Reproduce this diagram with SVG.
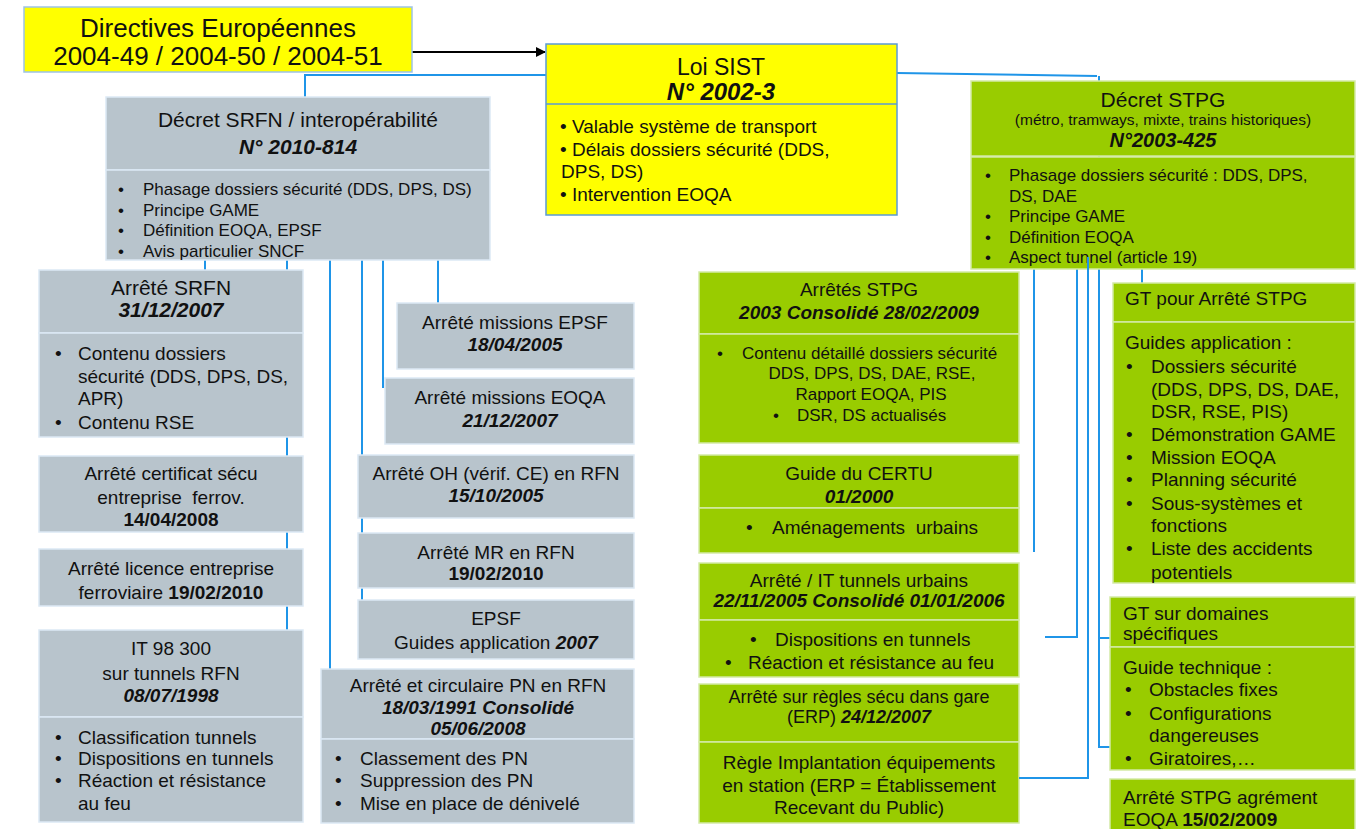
<svg xmlns="http://www.w3.org/2000/svg" width="1360" height="829" viewBox="0 0 1360 829">
<defs>
<style>
text{font-family:"Liberation Sans",Arial,sans-serif;fill:#111}
.c{text-anchor:middle}
.b{font-weight:bold}
.bi{font-weight:bold;font-style:italic}
.gray{fill:#B8C4CC;stroke:#DCE9F5;stroke-width:1.5}
.green{fill:#99CC00;stroke:#D4EAA6;stroke-width:1.5}
.yel{fill:#FFFF00;stroke:#9DC3E6;stroke-width:1.5}
.loi{fill:#FFFF00;stroke:#5B9BD5;stroke-width:1.5}
.conn{fill:none;stroke:#1F95E8;stroke-width:2}
.f26{font-size:26px}
.f24{font-size:24px}
.f21{font-size:21px}
.f19{font-size:19px}
.f17{font-size:17px}
.f155{font-size:15.5px}
</style>
<marker id="arr" viewBox="0 0 10 10" refX="9" refY="5" markerWidth="10" markerHeight="10" markerUnits="userSpaceOnUse" orient="auto">
<path d="M0,0 L10,5 L0,10 z" fill="#000"/>
</marker>
</defs>
<rect width="1360" height="829" fill="#fff"/>

<g id="connectors">
<path class="conn" d="M546,75 H305 V97"/>
<path class="conn" d="M897,73 L1097,76"/>
<path class="conn" d="M1099,76 V747 H1110"/>
<path class="conn" d="M1099,638 H1110"/>
<path class="conn" d="M205,260 V270"/>
<path class="conn" d="M287,260 V630"/>
<path class="conn" d="M330,260 V669"/>
<path class="conn" d="M362,260 V600"/>
<path class="conn" d="M383,260 V388"/>
<path class="conn" d="M438,260 V303"/>
<path class="conn" d="M1034,269 V552"/>
<path class="conn" d="M1077,269 V637 H1045"/>
<path class="conn" d="M1142,269 V283"/>
<path d="M412,52 H545" stroke="#000" stroke-width="2" fill="none" marker-end="url(#arr)"/>
</g>

<g id="directives">
<rect class="yel" x="24" y="7" width="388" height="65"/>
<text class="c f26" x="218" y="37">Directives Européennes</text>
<text class="c f26" x="218" y="65">2004-49 / 2004-50 / 2004-51</text>
</g>

<g id="loi-sist">
<rect class="loi" x="546" y="44" width="351" height="171"/>
<line x1="546" y1="104" x2="897" y2="104" stroke="#5B9BD5" stroke-width="1.5"/>
<text class="c" font-size="23" x="721" y="75">Loi SIST</text>
<text class="c bi" font-size="24" x="721" y="100">N° 2002-3</text>
<text class="f19" x="560" y="133">• Valable système de transport</text>
<text class="f19" x="560" y="156">• Délais dossiers sécurité (DDS,</text>
<text class="f19" x="561" y="178">DPS, DS)</text>
<text class="f19" x="560" y="201">• Intervention EOQA</text>
</g>

<g id="decret-srfn">
<rect class="gray" x="106" y="97" width="384" height="73"/>
<rect class="gray" x="106" y="170" width="384" height="90"/>
<text class="c f21" x="298" y="127">Décret SRFN / interopérabilité</text>
<text class="c bi f21" x="298" y="154">N° 2010-814</text>
<text class="f17" x="118" y="195">•</text><text class="f17" x="143" y="195">Phasage dossiers sécurité (DDS, DPS, DS)</text>
<text class="f17" x="118" y="216">•</text><text class="f17" x="143" y="216">Principe GAME</text>
<text class="f17" x="118" y="236">•</text><text class="f17" x="143" y="236">Définition EOQA, EPSF</text>
<text class="f17" x="118" y="257">•</text><text class="f17" x="143" y="257">Avis particulier SNCF</text>
</g>

<g id="arrete-srfn">
<rect class="gray" x="39" y="270" width="264" height="63"/>
<rect class="gray" x="39" y="333" width="264" height="104"/>
<text class="c f21" x="171" y="295">Arrêté SRFN</text>
<text class="c bi f21" x="171" y="317">31/12/2007</text>
<text class="f19" x="55" y="360">•</text><text class="f19" x="78" y="360">Contenu dossiers</text>
<text class="f19" x="78" y="383">sécurité (DDS, DPS, DS,</text>
<text class="f19" x="78" y="405">APR)</text>
<text class="f19" x="55" y="429">•</text><text class="f19" x="78" y="429">Contenu RSE</text>
</g>

<g id="arrete-certificat">
<rect class="gray" x="39" y="456" width="264" height="76"/>
<text class="c f19" x="171" y="480">Arrêté certificat sécu</text>
<text class="c f19" x="171" y="504" xml:space="preserve">entreprise  ferrov.</text>
<text class="c b f19" x="171" y="526">14/04/2008</text>
</g>

<g id="arrete-licence">
<rect class="gray" x="39" y="549" width="264" height="57"/>
<text class="c f19" x="171" y="575">Arrêté licence entreprise</text>
<text class="c f19" x="171" y="599">ferroviaire <tspan class="b">19/02/2010</tspan></text>
</g>

<g id="it-98-300">
<rect class="gray" x="39" y="630" width="264" height="87"/>
<rect class="gray" x="39" y="717" width="264" height="105"/>
<text class="c f19" x="171" y="655">IT 98 300</text>
<text class="c f19" x="171" y="680">sur tunnels RFN</text>
<text class="c bi f19" x="171" y="702">08/07/1998</text>
<text class="f19" x="55" y="744">•</text><text class="f19" x="78" y="744">Classification tunnels</text>
<text class="f19" x="55" y="765">•</text><text class="f19" x="78" y="765">Dispositions en tunnels</text>
<text class="f19" x="55" y="787">•</text><text class="f19" x="78" y="787">Réaction et résistance</text>
<text class="f19" x="78" y="810">au feu</text>
</g>

<g id="arrete-missions-epsf">
<rect class="gray" x="397" y="303" width="237" height="66"/>
<text class="c f19" x="515" y="329">Arrêté missions EPSF</text>
<text class="c bi f19" x="515" y="351">18/04/2005</text>
</g>

<g id="arrete-missions-eoqa">
<rect class="gray" x="385" y="378" width="249" height="66"/>
<text class="c f19" x="510" y="404">Arrêté missions EOQA</text>
<text class="c bi f19" x="510" y="427">21/12/2007</text>
</g>

<g id="arrete-oh">
<rect class="gray" x="358" y="455" width="276" height="63"/>
<text class="c f19" x="496" y="480">Arrêté OH (vérif. CE) en RFN</text>
<text class="c bi f19" x="496" y="502">15/10/2005</text>
</g>

<g id="arrete-mr">
<rect class="gray" x="358" y="533" width="276" height="55"/>
<text class="c f19" x="496" y="559">Arrêté MR en RFN</text>
<text class="c b f19" x="496" y="580">19/02/2010</text>
</g>

<g id="epsf-guides">
<rect class="gray" x="358" y="600" width="276" height="59"/>
<text class="c f19" x="496" y="625">EPSF</text>
<text class="c f19" x="496" y="649">Guides application <tspan class="bi">2007</tspan></text>
</g>

<g id="arrete-pn">
<rect class="gray" x="321" y="669" width="313" height="70"/>
<rect class="gray" x="321" y="739" width="313" height="84"/>
<text class="c f19" x="478" y="692">Arrêté et circulaire PN en RFN</text>
<text class="c bi f19" x="478" y="714">18/03/1991 Consolidé</text>
<text class="c bi f19" x="478" y="735">05/06/2008</text>
<text class="f19" x="335" y="765">•</text><text class="f19" x="360" y="765">Classement des PN</text>
<text class="f19" x="335" y="787">•</text><text class="f19" x="360" y="787">Suppression des PN</text>
<text class="f19" x="335" y="810">•</text><text class="f19" x="360" y="810">Mise en place de dénivelé</text>
</g>

<g id="decret-stpg">
<rect class="green" x="971" y="81" width="384" height="75"/>
<rect class="green" x="971" y="157" width="384" height="112"/>
<text class="c f21" x="1163" y="107">Décret STPG</text>
<text class="c f155" x="1163" y="125">(métro, tramways, mixte, trains historiques)</text>
<text class="c bi" font-size="20" x="1163" y="147">N°2003-425</text>
<text class="f17" x="985" y="181">•</text><text class="f17" x="1009" y="181">Phasage dossiers sécurité : DDS, DPS,</text>
<text class="f17" x="1009" y="202">DS, DAE</text>
<text class="f17" x="985" y="222">•</text><text class="f17" x="1009" y="222">Principe GAME</text>
<text class="f17" x="985" y="243">•</text><text class="f17" x="1009" y="243">Définition EOQA</text>
<text class="f17" x="985" y="263">•</text><text class="f17" x="1009" y="263">Aspect tunnel (article 19)</text>
</g>

<g id="arretes-stpg">
<rect class="green" x="699" y="272" width="320" height="62"/>
<rect class="green" x="699" y="334" width="320" height="109"/>
<text class="c f19" x="859" y="296">Arrêtés STPG</text>
<text class="c bi f19" x="859" y="319">2003 Consolidé 28/02/2009</text>
<text class="f17" x="717" y="359">•</text><text class="f17" x="742" y="359">Contenu détaillé dossiers sécurité</text>
<text class="c f17" x="872" y="379">DDS, DPS, DS, DAE, RSE,</text>
<text class="c f17" x="871" y="400">Rapport EOQA, PIS</text>
<text class="f17" x="773" y="421">•</text><text class="f17" x="797" y="421">DSR, DS actualisés</text>
</g>

<g id="guide-certu">
<rect class="green" x="699" y="455" width="320" height="53"/>
<rect class="green" x="699" y="508" width="320" height="45"/>
<text class="c f19" x="859" y="480">Guide du CERTU</text>
<text class="c bi f19" x="859" y="503">01/2000</text>
<text class="f19" x="746" y="534">•</text><text class="f19" x="772" y="534" xml:space="preserve">Aménagements  urbains</text>
</g>

<g id="arrete-tunnels-urbains">
<rect class="green" x="699" y="563" width="320" height="57"/>
<rect class="green" x="699" y="620" width="320" height="57"/>
<text class="c f19" x="859" y="587">Arrêté / IT tunnels urbains</text>
<text class="c bi f19" x="859" y="607">22/11/2005 Consolidé 01/01/2006</text>
<text class="f19" x="750" y="646">•</text><text class="f19" x="775" y="646">Dispositions en tunnels</text>
<text class="f19" x="725" y="669">•</text><text class="f19" x="748" y="669">Réaction et résistance au feu</text>
</g>

<g id="arrete-gare">
<rect class="green" x="699" y="684" width="320" height="58"/>
<text class="c" font-size="18" x="859" y="703">Arrêté sur règles sécu dans gare</text>
<text class="c" font-size="18" x="859" y="723">(ERP) <tspan class="bi">24/12/2007</tspan></text>
</g>

<g id="regle-implantation">
<rect class="green" x="699" y="742" width="320" height="81"/>
<text class="c f19" x="859" y="769">Règle Implantation équipements</text>
<text class="c f19" x="859" y="792">en station (ERP = Établissement</text>
<text class="c f19" x="859" y="814">Recevant du Public)</text>
</g>

<g id="gt-arrete-stpg">
<rect class="green" x="1113" y="283" width="242" height="39"/>
<rect class="green" x="1113" y="322" width="242" height="261"/>
<text class="f19" x="1125" y="305">GT pour Arrêté STPG</text>
<text class="f19" x="1125" y="349">Guides application :</text>
<text class="f19" x="1126" y="373">•</text><text class="f19" x="1151" y="373">Dossiers sécurité</text>
<text class="f19" x="1151" y="396">(DDS, DPS, DS, DAE,</text>
<text class="f19" x="1151" y="418">DSR, RSE, PIS)</text>
<text class="f19" x="1126" y="441">•</text><text class="f19" x="1151" y="441">Démonstration GAME</text>
<text class="f19" x="1126" y="464">•</text><text class="f19" x="1151" y="464">Mission EOQA</text>
<text class="f19" x="1126" y="486">•</text><text class="f19" x="1151" y="486">Planning sécurité</text>
<text class="f19" x="1126" y="510">•</text><text class="f19" x="1151" y="510">Sous-systèmes et</text>
<text class="f19" x="1151" y="532">fonctions</text>
<text class="f19" x="1126" y="555">•</text><text class="f19" x="1151" y="555">Liste des accidents</text>
<text class="f19" x="1151" y="579">potentiels</text>
</g>

<g id="gt-domaines">
<rect class="green" x="1110" y="597" width="245" height="50"/>
<rect class="green" x="1110" y="647" width="245" height="123"/>
<text class="f19" x="1123" y="620">GT sur domaines</text>
<text class="f19" x="1123" y="640">spécifiques</text>
<text class="f19" x="1123" y="674">Guide technique :</text>
<text class="f19" x="1125" y="696">•</text><text class="f19" x="1149" y="696">Obstacles fixes</text>
<text class="f19" x="1125" y="720">•</text><text class="f19" x="1149" y="720">Configurations</text>
<text class="f19" x="1149" y="742">dangereuses</text>
<text class="f19" x="1125" y="765">•</text><text class="f19" x="1149" y="765">Giratoires,…</text>
</g>

<g id="arrete-agrement">
<rect class="green" x="1110" y="779" width="245" height="56"/>
<text class="f19" x="1123" y="804">Arrêté STPG agrément</text>
<text class="f19" x="1123" y="826">EOQA <tspan class="b">15/02/2009</tspan></text>
</g>

<g id="connectors-front">
<path class="conn" d="M1088,257 V778 H1019"/>
</g>
</svg>
